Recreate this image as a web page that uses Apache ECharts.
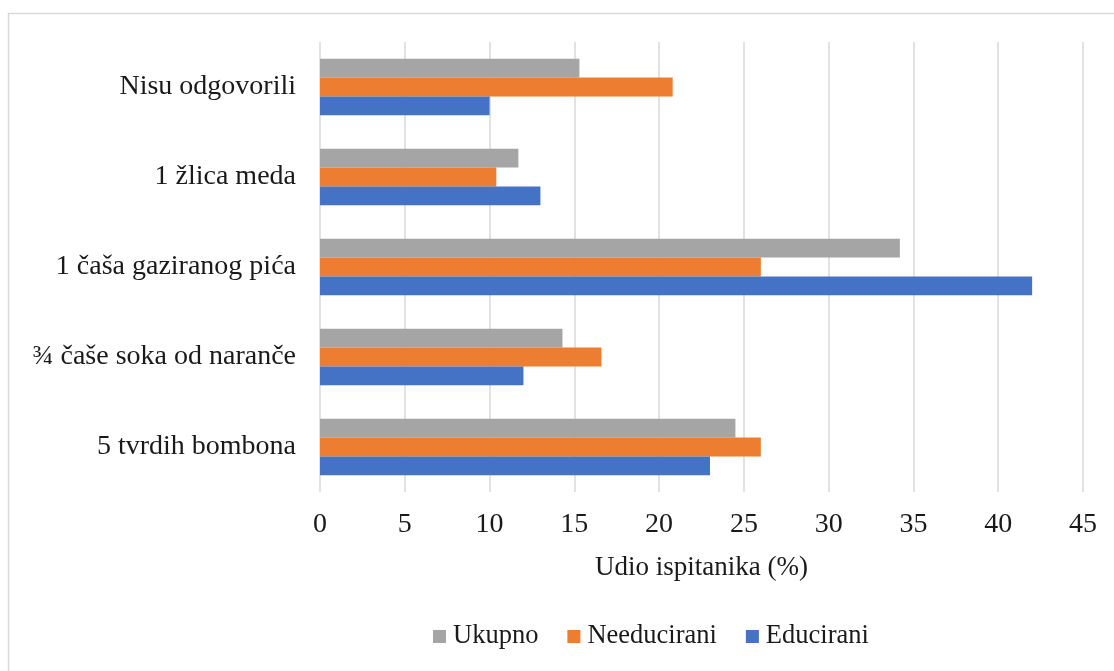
<!DOCTYPE html>
<html><head><meta charset="utf-8">
<script src="https://cdn.jsdelivr.net/npm/echarts@6/dist/echarts.min.js"></script>
<style>html,body{margin:0;padding:0;background:#fff}#c{width:1114px;height:671px}</style>
</head><body><div id="c"></div>
<script>
const categories = ['5 tvrdih bombona', '¾ čaše soka od naranče', '1 čaša gaziranog pića', '1 žlica meda', 'Nisu odgovorili'];
const educirani = [23.0, 12.0, 42.0, 13.0, 10.0];
const needucirani = [26.0, 16.6, 26.0, 10.4, 20.8];
const ukupno = [24.5, 14.3, 34.2, 11.7, 15.3];
const xTicks = [0, 5, 10, 15, 20, 25, 30, 35, 40, 45];
const font = 'Liberation Serif';
const chart = echarts.init(document.getElementById('c'));
chart.setOption({
  animation: false,
  textStyle: {fontFamily: font},
  graphic: [{type: 'rect', shape: {x: 8.5, y: 13.5, width: 1130, height: 680}, style: {fill: 'none', stroke: '#d9d9d9', lineWidth: 1.5}, silent: true}],
  grid: {left: 320, right: 31, top: 42, bottom: 179},
  legend: {
    data: ['Ukupno', 'Needucirani', 'Educirani'],
    left: 433, top: 623, padding: 0, icon: 'rect', itemWidth: 13, itemHeight: 13, itemGap: 29,
    textStyle: {fontFamily: font, fontSize: 26.5, color: '#1a1a1a', padding: [0, 0, 0, 2]}
  },
  xAxis: {
    type: 'value', min: xTicks[0], max: xTicks[xTicks.length - 1], interval: 5,
    name: 'Udio ispitanika (%)', nameLocation: 'middle', nameGap: 62,
    nameTextStyle: {fontFamily: font, fontSize: 27, color: '#1a1a1a'},
    axisLine: {show: false}, axisTick: {show: false},
    axisLabel: {fontFamily: font, fontSize: 28, color: '#1a1a1a', margin: 19},
    splitLine: {show: true, lineStyle: {color: '#d9d9d9', width: 1.5}}
  },
  yAxis: {
    type: 'category', data: categories,
    axisLine: {show: false}, axisTick: {show: false},
    axisLabel: {fontFamily: font, fontSize: 28, color: '#1a1a1a', margin: 24}
  },
  series: [
    {name: 'Ukupno', type: 'bar', data: ukupno, itemStyle: {color: '#A5A5A5'}, barGap: '0%', barCategoryGap: '37%'},
    {name: 'Needucirani', type: 'bar', data: needucirani, itemStyle: {color: '#ED7D31'}, barGap: '0%', barCategoryGap: '37%'},
    {name: 'Educirani', type: 'bar', data: educirani, itemStyle: {color: '#4472C4'}, barGap: '0%', barCategoryGap: '37%'}
  ]
});
</script></body></html>
